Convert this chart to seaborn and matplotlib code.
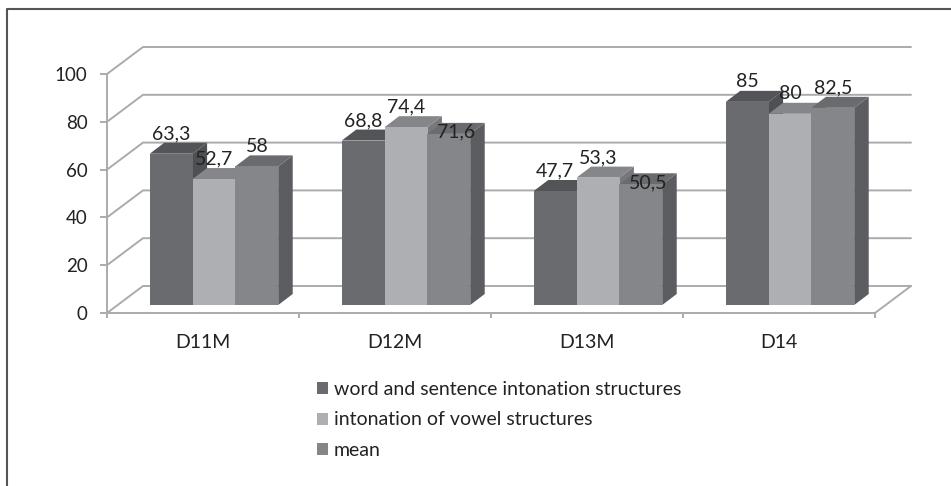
import matplotlib
matplotlib.use("Agg")
import matplotlib.pyplot as plt
from matplotlib.lines import Line2D
from matplotlib.patches import Polygon
from matplotlib.transforms import Affine2D
import pandas as pd
import seaborn as sns

categories = ["D11M", "D12M", "D13M", "D14"]
word_sentence = [63.3, 68.8, 47.7, 85]
vowel = [52.7, 74.4, 53.3, 80]
mean = [58, 71.6, 50.5, 82.5]
series_names = ["word and sentence intonation structures",
                "intonation of vowel structures", "mean"]
y_ticks = [0, 20, 40, 60, 80, 100]

front_colors = ["#6a6b6e", "#aeafb3", "#85868a"]
top_colors = ["#535457", "#858689", "#6a6b6e"]
side_colors = ["#4f5053", "#77787b", "#5c5d60"]
grid_color = "#a9abaf"
text_color = "#222222"

W, H = 951, 486
DPI = 100

# pixel geometry of the pseudo-3D box
AX_LEFT, AX_RIGHT, AX_BOTTOM, AX_TOP = 107, 875, 313, 74
BAR_SHIFT = (11, 8)        # bars stand slightly behind the front plane
BAR_DEPTH = (14.5, 11)     # visible depth of every bar
WALL_DEPTH = (36, 27)      # distance from front plane to back wall

sns.set_theme(style="white")
plt.rcParams["font.family"] = ["Lato", "DejaVu Sans"]

df = pd.DataFrame({
    "category": categories * 3,
    "series": sum([[n] * len(categories) for n in series_names], []),
    "value": word_sentence + vowel + mean,
})

fig = plt.figure(figsize=(W / DPI, H / DPI), dpi=DPI, facecolor="white")
ax = fig.add_axes([AX_LEFT / W, 1 - AX_BOTTOM / H,
                   (AX_RIGHT - AX_LEFT) / W, (AX_BOTTOM - AX_TOP) / H])
ax.patch.set_alpha(0)

sns.barplot(data=df, x="category", y="value", hue="series",
            hue_order=series_names, order=categories,
            palette=front_colors, saturation=1, width=0.669, gap=0,
            linewidth=0, errorbar=None, ax=ax)
ax.set_xlim(-0.5, len(categories) - 0.5)
ax.set_ylim(0, 100)
ax.set_xlabel("")
ax.set_ylabel("")

# conversion of pixel offsets to data units
px_x = (len(categories)) / (AX_RIGHT - AX_LEFT)
px_y = 100 / (AX_BOTTOM - AX_TOP)
shifted = ax.transData + Affine2D().translate(*BAR_SHIFT)
dx, dy = BAR_DEPTH[0] * px_x, BAR_DEPTH[1] * px_y
wx, wy = WALL_DEPTH[0] * px_x, WALL_DEPTH[1] * px_y

# back wall, side wall and floor
x0, x1 = ax.get_xlim()
for tick in y_ticks:
    ax.plot([x0, x0 + wx, x1 + wx], [tick, tick + wy, tick + wy],
            color=grid_color, lw=1.4, clip_on=False, zorder=1,
            solid_joinstyle="miter")
ax.plot([x1, x1 + wx], [0, wy], color=grid_color, lw=1.4, clip_on=False, zorder=1)

# bars: side and top faces behind each front face, painted left to right
order = 2
for c_idx in range(len(categories)):
    for s_idx, container in enumerate(ax.containers):
        bar = container[c_idx]
        l, r, h = bar.get_x(), bar.get_x() + bar.get_width(), bar.get_height()
        side = Polygon([(r, 0), (r + dx, dy), (r + dx, h + dy), (r, h)],
                       closed=True, fc=side_colors[s_idx], ec="none",
                       transform=shifted, clip_on=False, zorder=order)
        top = Polygon([(l, h), (l + dx, h + dy), (r + dx, h + dy), (r, h)],
                      closed=True, fc=top_colors[s_idx], ec="none",
                      transform=shifted, clip_on=False, zorder=order + 0.1)
        ax.add_patch(side)
        ax.add_patch(top)
        bar.set_transform(shifted)
        bar.set_clip_on(False)
        bar.set_zorder(order + 0.2)
        order += 1

# value labels; two of them sit lower, on top of their bars
label_nudges = {(1, 2): (7, -18), (2, 2): (7, -19)}
for s_idx, container in enumerate(ax.containers):
    for c_idx, bar in enumerate(container):
        h = bar.get_height()
        nx, ny = label_nudges.get((c_idx, s_idx), (0, 0))
        ax.annotate(f"{h:g}".replace(".", ","),
                    xy=(bar.get_x() + bar.get_width() / 2, h),
                    xytext=(BAR_SHIFT[0] + nx, BAR_SHIFT[1] + 20 + ny),
                    textcoords="offset pixels", ha="center", va="center",
                    fontsize=14, color=text_color, zorder=100,
                    annotation_clip=False)

# axes
for name in ("top", "right"):
    ax.spines[name].set_visible(False)
for name in ("left", "bottom"):
    ax.spines[name].set_color(grid_color)
    ax.spines[name].set_linewidth(1.4)
ax.set_yticks(y_ticks)
ax.set_xticks(range(len(categories)))
ax.set_xticklabels(categories)
ax.set_xticks([i - 0.5 for i in range(len(categories) + 1)], minor=True)
ax.tick_params(axis="y", left=True, length=5, width=1.4, color=grid_color,
               pad=9, labelsize=13.5, labelcolor=text_color)
ax.tick_params(axis="x", which="major", bottom=False, length=0, pad=15,
               labelsize=14, labelcolor=text_color)
ax.tick_params(axis="x", which="minor", bottom=True, length=3.6, width=1.4,
               color=grid_color)

# legend stacked under the plot
handles = [Polygon([(0, 0)], fc=c, ec="none") for c in front_colors]
ax.legend(handles, series_names, loc="upper left",
          bbox_to_anchor=(317 / W, 1 - 381 / H), bbox_transform=fig.transFigure,
          frameon=False, fontsize=14, labelcolor=text_color, borderaxespad=0,
          borderpad=0, handlelength=0.57, handleheight=0.57, handletextpad=0.3,
          labelspacing=0.69)

# frame along the top and left edges
fig.add_artist(Line2D([7 / W, 7 / W, 1], [0, 1 - 9.5 / H, 1 - 9.5 / H],
                      color="#555555", lw=1.5, transform=fig.transFigure))

fig.savefig("out.png", dpi=DPI, facecolor="white")
